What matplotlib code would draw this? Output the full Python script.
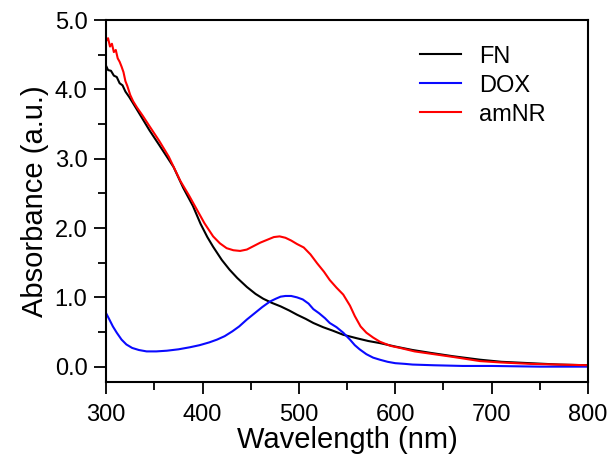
import matplotlib
matplotlib.use("Agg")
import matplotlib.pyplot as plt
from matplotlib.ticker import MultipleLocator, FormatStrFormatter

plt.rcParams['font.family'] = ['Liberation Sans', 'DejaVu Sans']

# FN (black)
fn_x = [300, 302, 305, 308, 311, 314, 317, 320, 324, 328, 335, 345, 355, 363, 370, 380, 390,
        398, 405, 411, 420, 428, 436, 446, 455, 463, 472, 481, 490, 498, 507, 515, 525,
        535, 546, 560, 572, 584, 600, 618, 636, 660, 688, 710, 740, 770, 800]
fn_y = [4.34, 4.28, 4.27, 4.20, 4.18, 4.09, 4.06, 3.97, 3.89, 3.80, 3.64, 3.41, 3.20, 3.03,
        2.88, 2.58, 2.32, 2.06, 1.87, 1.73, 1.54, 1.40, 1.28, 1.15, 1.05, 0.98, 0.92, 0.87,
        0.81, 0.75, 0.69, 0.63, 0.57, 0.52, 0.46, 0.41, 0.37, 0.34, 0.29, 0.24, 0.20, 0.15,
        0.10, 0.07, 0.05, 0.03, 0.02]

# DOX (blue)
dox_x = [300, 303, 307, 311, 316, 321, 327, 334, 342, 352, 363, 375, 387, 397, 407, 415,
         423, 431, 438, 446, 454, 462, 470, 476, 481, 486, 492, 498, 504, 510, 515, 521,
         527, 532, 539, 546, 553, 558, 563, 570, 577, 584, 592, 600, 610, 618, 640, 670,
         700, 750, 800]
dox_y = [0.77, 0.69, 0.58, 0.49, 0.39, 0.32, 0.27, 0.24, 0.22, 0.22, 0.23, 0.25, 0.28, 0.31,
         0.35, 0.39, 0.44, 0.51, 0.58, 0.68, 0.77, 0.86, 0.94, 0.98, 1.01, 1.02, 1.02, 1.00,
         0.97, 0.91, 0.83, 0.77, 0.70, 0.63, 0.57, 0.49, 0.39, 0.31, 0.25, 0.18, 0.13, 0.10,
         0.07, 0.05, 0.04, 0.03, 0.02, 0.01, 0.01, 0.00, 0.00]

# amNR (red)
amnr_x = [300, 302, 304, 306, 308, 310, 312, 314, 316, 318, 320, 322, 325, 328, 332, 338,
          345, 355, 365, 377, 386, 394, 402, 411, 418, 425, 432, 439, 446, 453, 460, 467,
          474, 480, 486, 492, 498, 505, 512, 519, 526, 532, 539, 546, 553, 558, 564, 570,
          577, 584, 595, 605, 620, 640, 660, 688, 710, 740, 770, 800]
amnr_y = [4.70, 4.74, 4.62, 4.66, 4.54, 4.57, 4.45, 4.40, 4.33, 4.25, 4.12, 4.05, 3.92, 3.83,
          3.74, 3.62, 3.47, 3.26, 3.03, 2.68, 2.47, 2.27, 2.07, 1.88, 1.78, 1.71, 1.68, 1.67,
          1.69, 1.74, 1.79, 1.83, 1.87, 1.88, 1.86, 1.82, 1.77, 1.72, 1.62, 1.49, 1.37, 1.25,
          1.14, 1.04, 0.88, 0.73, 0.58, 0.49, 0.42, 0.36, 0.30, 0.27, 0.22, 0.18, 0.14, 0.08,
          0.06, 0.04, 0.03, 0.02]

series = [("FN", fn_x, fn_y, "black"),
          ("DOX", dox_x, dox_y, "#0a0aff"),
          ("amNR", amnr_x, amnr_y, "#ff0000")]

fig = plt.figure(figsize=(6.1, 4.59), dpi=100)
ax = fig.add_axes([0.174, 0.168, 0.790, 0.788])

for name, xs, ys, col in series:
    ax.plot(xs, ys, color=col, lw=1.5, label=name)

ax.set_xlim(300, 800)
ax.set_ylim(-0.22, 5.0)
ax.xaxis.set_major_locator(MultipleLocator(100))
ax.xaxis.set_minor_locator(MultipleLocator(50))
ax.yaxis.set_major_locator(MultipleLocator(1.0))
ax.yaxis.set_minor_locator(MultipleLocator(0.5))
ax.yaxis.set_major_formatter(FormatStrFormatter('%.1f'))

ax.tick_params(which='major', direction='out', length=8.5, width=1.3, labelsize=17)
ax.tick_params(which='minor', direction='out', length=5.5, width=1.3)
ax.tick_params(axis='x', which='major', pad=7.5)
ax.tick_params(axis='y', which='major', pad=5)
for s in ax.spines.values():
    s.set_linewidth(1.5)

ax.set_xlabel("Wavelength (nm)", fontsize=21, labelpad=0)
ax.set_ylabel("Absorbance (a.u.)", fontsize=21, labelpad=4)

ax.legend(loc='upper left', bbox_to_anchor=(0.651, 0.93), frameon=False, fontsize=17,
          handlelength=1.75, handletextpad=0.75, labelspacing=0.3, borderpad=0,
          borderaxespad=0)

fig.savefig("out.png", dpi=100)
